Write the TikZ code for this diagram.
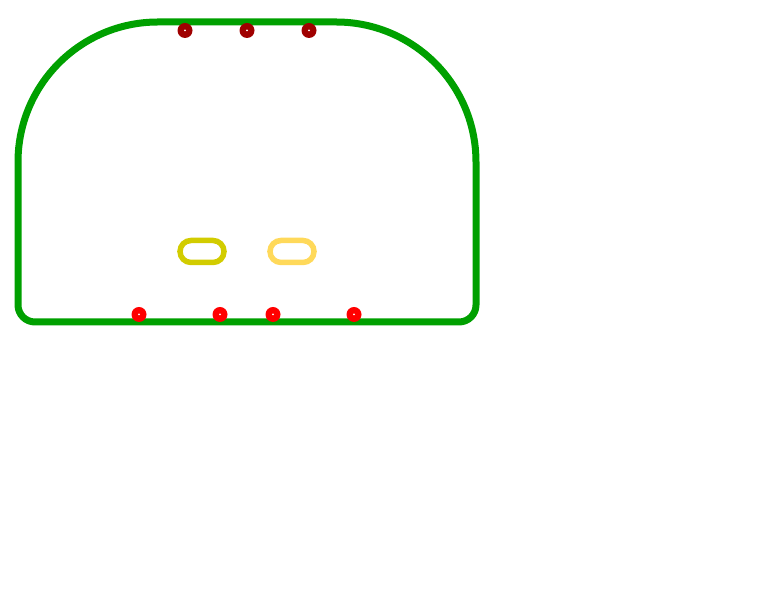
\documentclass[tikz,border=0pt]{standalone}
\usepackage{tikz}
\definecolor{rahmengruen}{RGB}{0,160,0}
\definecolor{dunkelrot}{RGB}{160,0,0}
\definecolor{hellrot}{RGB}{255,0,0}
\definecolor{olivgelb}{RGB}{210,204,0}
\definecolor{hellgelb}{RGB}{255,217,90}
\begin{document}
\begin{tikzpicture}[x=1pt,y=1pt]
        \def\gross{140}
        \def\klein{17}
        \def\punkt{7.5}
        \useasboundingbox (0,0) rectangle (758,599);
        % Rahmen
        \draw[rahmengruen, line width=7pt] (18,294) -- (18,577-\gross) arc (180:90:\gross)
            -- (476-\gross,577) arc (90:0:\gross) -- (476,294) arc (0:-90:\klein)
            -- (18+\klein,277) arc (270:180:\klein) -- cycle;
        % Punkte oben
        \fill[dunkelrot] (185,568.5) circle (\punkt);
        \fill[dunkelrot] (247,568.5) circle (\punkt);
        \fill[dunkelrot] (309,568.5) circle (\punkt);
        \fill[white] (185,568.5) circle (1);
        \fill[white] (247,568.5) circle (1);
        \fill[white] (309,568.5) circle (1);
        % Punkte unten
        \fill[hellrot] (139,284.5) circle (\punkt);
        \fill[hellrot] (220,284.5) circle (\punkt);
        \fill[hellrot] (273,284.5) circle (\punkt);
        \fill[hellrot] (354,284.5) circle (\punkt);
        \fill[white] (139,284.5) circle (1);
        \fill[white] (220,284.5) circle (1);
        \fill[white] (273,284.5) circle (1);
        \fill[white] (354,284.5) circle (1);
        % Langloecher
        \draw[olivgelb, line width=5.5pt, rounded corners=11pt] (180,336.5) rectangle (224,358.5);
        \draw[hellgelb, line width=5.5pt, rounded corners=11pt] (270,336.5) rectangle (314,358.5);
    \end{tikzpicture}
\end{document}
